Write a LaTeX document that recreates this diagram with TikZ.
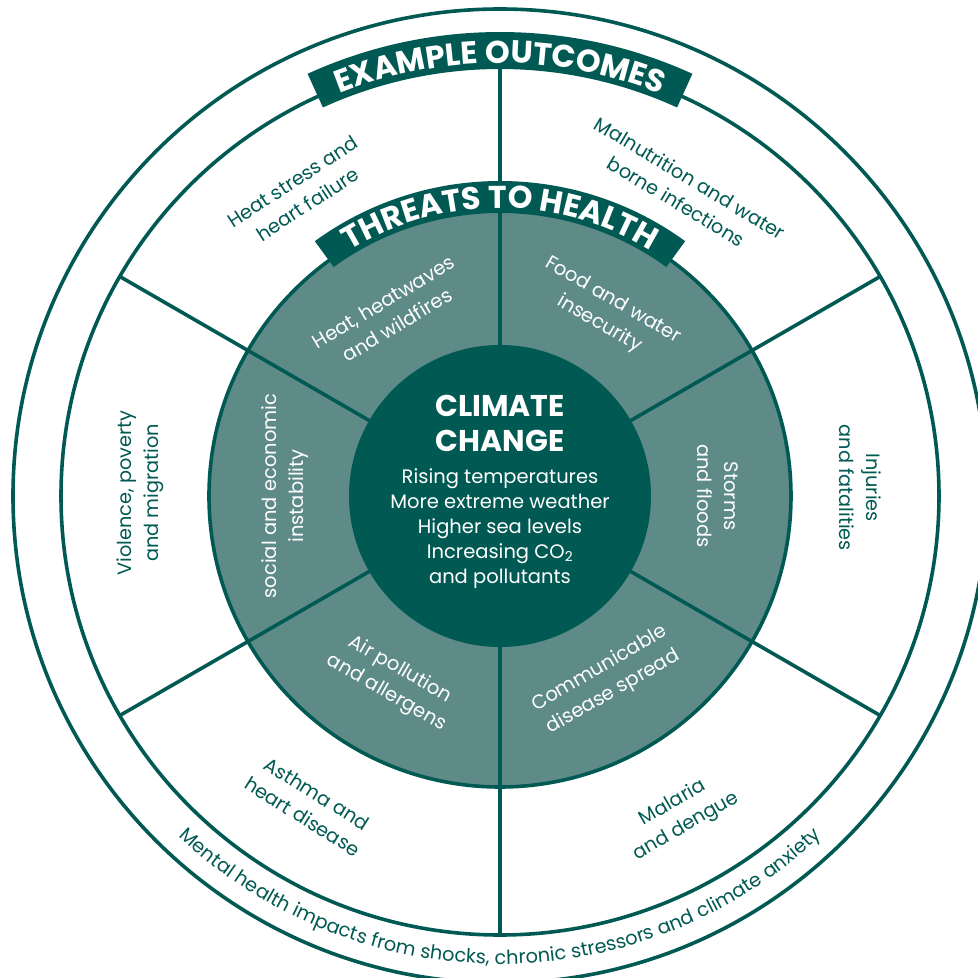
\documentclass[tikz,border=0pt]{standalone}
\usepackage{fontspec}
\setmainfont{Poppins}
\usepackage{tikz}
\usetikzlibrary{decorations.text}

\definecolor{deepteal}{HTML}{005A53}
\definecolor{greyteal}{HTML}{5E8B88}
\newcommand{\bannerfont}{\fontsize{31.5}{31.5}\selectfont\bfseries}
\newcommand{\arcfont}{\fontsize{19.3}{19.3}\selectfont}

\begin{document}
\begin{tikzpicture}[
        ring/.style={draw=deepteal, line width=3.6pt},
        outcome/.style={text=deepteal, align=center, font=\fontsize{19.3}{27}\selectfont},
        threat/.style={text=white, align=center, font=\fontsize{19.5}{27}\selectfont},
        banner/.style={fill=deepteal}
    ]
    \fill[white] (-500pt,-482pt) rectangle (478pt,496pt);
    \useasboundingbox (-500pt,-482pt) rectangle (478pt,496pt);

    % rings and spokes
    \draw[ring] (0, 0) circle (487pt);
    \draw[ring] (0, 0) circle (439pt);
    \draw[ring, fill=greyteal] (0, 0) circle (291pt);
    \fill[deepteal] (0, 0) circle (151pt);
    \foreach \a in {30, 90, ..., 330}
        \draw[ring] (\a:151pt) -- (\a:439pt);

    % banners
    \fill[banner] (65.5:427pt) arc[start angle=65.5, end angle=114.5, radius=427pt]
        -- (114.5:464pt) arc[start angle=114.5, end angle=65.5, radius=464pt] -- cycle;
    \fill[banner] (54:283pt) arc[start angle=54, end angle=126, radius=283pt]
        -- (126:315pt) arc[start angle=126, end angle=54, radius=315pt] -- cycle;
    \path[decorate, decoration={text along path, text align=center, text color=white,
            text={|\bannerfont|EXAMPLE OUTCOMES}}]
        (130:433pt) arc[start angle=130, end angle=50, radius=433pt];
    \path[decorate, decoration={text along path, text align=center, text color=white,
            text={|\bannerfont|THREATS TO HEALTH}}]
        (140:288pt) arc[start angle=140, end angle=40, radius=288pt];

    % centre
    \node[text=white, align=center, font=\fontsize{30}{35}\selectfont\bfseries] (title) at (0, 73pt) {CLIMATE\\CHANGE};
    \node[text=white, align=center, font=\fontsize{19.5}{25}\selectfont] (drivers) at (0, -33pt)
        {Rising temperatures\\More extreme weather\\Higher sea levels\\Increasing CO\textsubscript{2}\\and pollutants};

    % threats to health
    \node[threat, rotate=31] (heat) at (121:213pt) {Heat, heatwaves\\and wildfires};
    \node[threat, rotate=-30] (food) at (60:212pt) {Food and water\\insecurity};
    \node[threat, rotate=-90] (storms) at (0:218pt) {Storms\\and floods};
    \node[threat, rotate=30] (disease) at (-60:213pt) {Communicable\\disease spread};
    \node[threat, rotate=-30] (air) at (-120:214pt) {Air pollution\\and allergens};
    \node[threat, rotate=90] (social) at (180:215pt) {social and economic\\instability};

    % example outcomes
    \node[outcome, rotate=33] (heatstress) at (123.4:363pt) {Heat stress and\\heart failure};
    \node[outcome, rotate=-31] (malnutrition) at (59.1:357pt) {Malnutrition and water\\borne infections};
    \node[outcome, rotate=-90] (injuries) at (1.3:360pt) {Injuries\\and fatalities};
    \node[outcome, rotate=30] (malaria) at (-60.6:366pt) {Malaria\\and dengue};
    \node[outcome, rotate=-32] (asthma) at (-121.6:363pt) {Asthma and\\heart disease};
    \node[outcome, rotate=90] (violence) at (179.5:360pt) {Violence, poverty\\and migration};

    \path[decorate, decoration={text along path, text align=center, text color=deepteal,
            text={|\arcfont|Mental health impacts from shocks, chronic stressors and climate anxiety}}]
        (-160:468pt) arc[start angle=-160, end angle=-20, radius=468pt];
\end{tikzpicture}
\end{document}
